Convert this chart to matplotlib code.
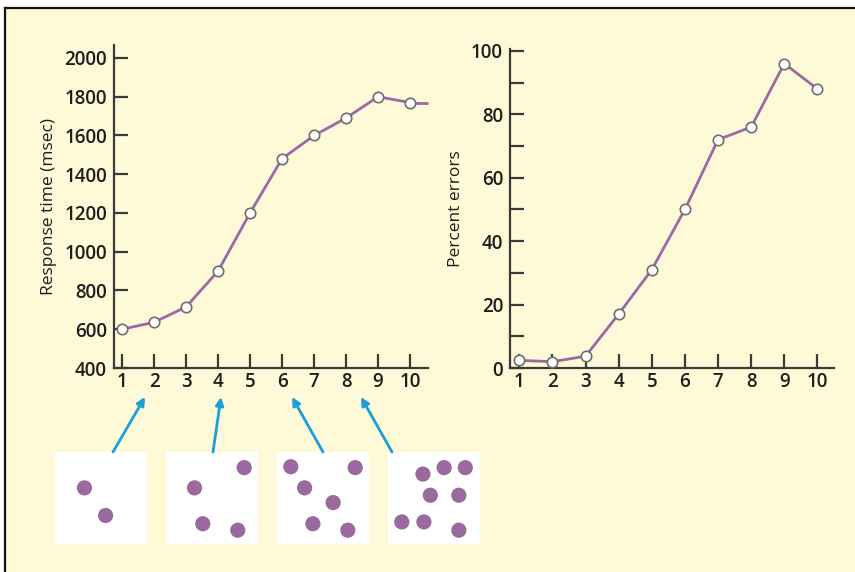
import matplotlib
matplotlib.use("Agg")
import matplotlib.pyplot as plt
from matplotlib.patches import FancyArrowPatch, Rectangle
from matplotlib.lines import Line2D

# Number of dots in the display
set_size = [1, 2, 3, 4, 5, 6, 7, 8, 9, 10]
# Mean response time (msec)
response_ms = [600, 636, 715, 900, 1200, 1480, 1600, 1690, 1800, 1770]
# Percent errors
percent_errors = [2.4, 2.0, 3.7, 17, 31, 50, 72, 76, 96, 88]

rt_ticks = [400, 600, 800, 1000, 1200, 1400, 1600, 1800, 2000]
err_ticks = [0, 20, 40, 60, 80, 100]
err_minor = [10, 30, 50, 70, 90]

# Example displays (x, y as fractions of each panel, y measured from the top)
display_2_x = [0.32, 0.55]
display_2_y = [0.39, 0.69]
display_4_x = [0.85, 0.31, 0.40, 0.78]
display_4_y = [0.17, 0.39, 0.78, 0.85]
display_6_x = [0.15, 0.85, 0.30, 0.61, 0.39, 0.77]
display_6_y = [0.16, 0.17, 0.39, 0.55, 0.78, 0.85]
display_8_x = [0.38, 0.61, 0.84, 0.46, 0.77, 0.15, 0.39, 0.77]
display_8_y = [0.24, 0.17, 0.17, 0.47, 0.47, 0.76, 0.76, 0.85]

BG = "#FEF9D6"
LINE = "#9C69A8"
DOT = "#9A6A9E"
ARROW = "#1B9FD9"
INK = "#1E1E1E"

plt.rcParams["font.family"] = ["Open Sans", "DejaVu Sans"]

W, H = 855, 572
fig = plt.figure(figsize=(W / 100, H / 100), dpi=100)
fig.patch.set_facecolor("white")


def fx(px):
    return px / W


def fy(py):
    return 1 - py / H


# Panel background and frame lines
fig.add_artist(Rectangle((fx(5), 0), 1 - fx(5), fy(8), transform=fig.transFigure,
                         facecolor=BG, edgecolor="none", zorder=0))
fig.add_artist(Line2D([fx(5), 1], [fy(8), fy(8)], transform=fig.transFigure,
                      color="#111111", lw=1.6))
fig.add_artist(Line2D([fx(5), fx(5)], [0, fy(8)], transform=fig.transFigure,
                      color="#111111", lw=1.6))


def style_axes(ax):
    ax.set_facecolor("none")
    for s in ("top", "right"):
        ax.spines[s].set_visible(False)
    for s in ("left", "bottom"):
        ax.spines[s].set_color("#3a3a3a")
        ax.spines[s].set_linewidth(1.6)
    ax.tick_params(axis="both", which="both", direction="in", color="#3a3a3a",
                   width=1.6, length=10, labelsize=13.5, labelcolor=INK)
    ax.tick_params(axis="x", pad=3)
    ax.tick_params(axis="y", pad=5)
    for lab in ax.get_xticklabels() + ax.get_yticklabels():
        lab.set_fontweight("semibold")


# Left: response time
ax1 = fig.add_axes([fx(114), fy(368), fx(428) - fx(114), fy(45) - fy(368)])
ax1.set_xlim(0.75, 10.56)
ax1.set_ylim(400, 2067)
ax1.set_yticks(rt_ticks)
ax1.set_xticks(set_size)
style_axes(ax1)
tail_x = [set_size[-1], ax1.get_xlim()[1]]
ax1.plot(tail_x, [response_ms[-1], response_ms[-1]], color=LINE, lw=2, zorder=2,
         clip_on=False, solid_capstyle="butt")
ax1.plot(set_size, response_ms, color=LINE, lw=2, marker="o", ms=7.5,
         mfc="white", mec="#6f6f6f", mew=1.2, zorder=3, clip_on=False)
ax1.set_ylabel("Response time (msec)", fontsize=12.5, color=INK, labelpad=5)

# Right: percent errors
ax2 = fig.add_axes([fx(510), fy(368), fx(834) - fx(510), fy(49) - fy(368)])
ax2.set_xlim(0.72, 10.5)
ax2.set_ylim(0, 100.6)
ax2.set_yticks(err_ticks)
ax2.set_yticks(err_minor, minor=True)
ax2.set_xticks(set_size)
style_axes(ax2)
ax2.plot(set_size, percent_errors, color=LINE, lw=2, marker="o", ms=7.5,
         mfc="white", mec="#6f6f6f", mew=1.2, zorder=3, clip_on=False)
ax2.set_ylabel("Percent errors", fontsize=12.5, color=INK, labelpad=5)

# Example displays with arrows to set sizes 2, 4, 6, 8
box_left = [55, 166, 277, 388]
box_top, box_size = 452, 92
displays = [(display_2_x, display_2_y), (display_4_x, display_4_y),
            (display_6_x, display_6_y), (display_8_x, display_8_y)]
arrow_from = [113, 213, 323, 392]
arrow_to = [145, 221, 292, 361]

for left, (xs, ys), a0, a1 in zip(box_left, displays, arrow_from, arrow_to):
    axd = fig.add_axes([fx(left), fy(box_top + box_size), fx(box_size), box_size / H])
    axd.set_facecolor("white")
    axd.set_xlim(0, 1)
    axd.set_ylim(1, 0)
    axd.set_xticks([])
    axd.set_yticks([])
    for s in axd.spines.values():
        s.set_visible(False)
    axd.scatter(xs, ys, s=120, color=DOT, edgecolors="none")
    fig.add_artist(FancyArrowPatch((fx(a0), fy(box_top)), (fx(a1), fy(397)),
                                   transform=fig.transFigure, arrowstyle="-|>",
                                   mutation_scale=12, color=ARROW, lw=2,
                                   shrinkA=0, shrinkB=0))

fig.savefig("out.png", dpi=100, facecolor=fig.get_facecolor())
